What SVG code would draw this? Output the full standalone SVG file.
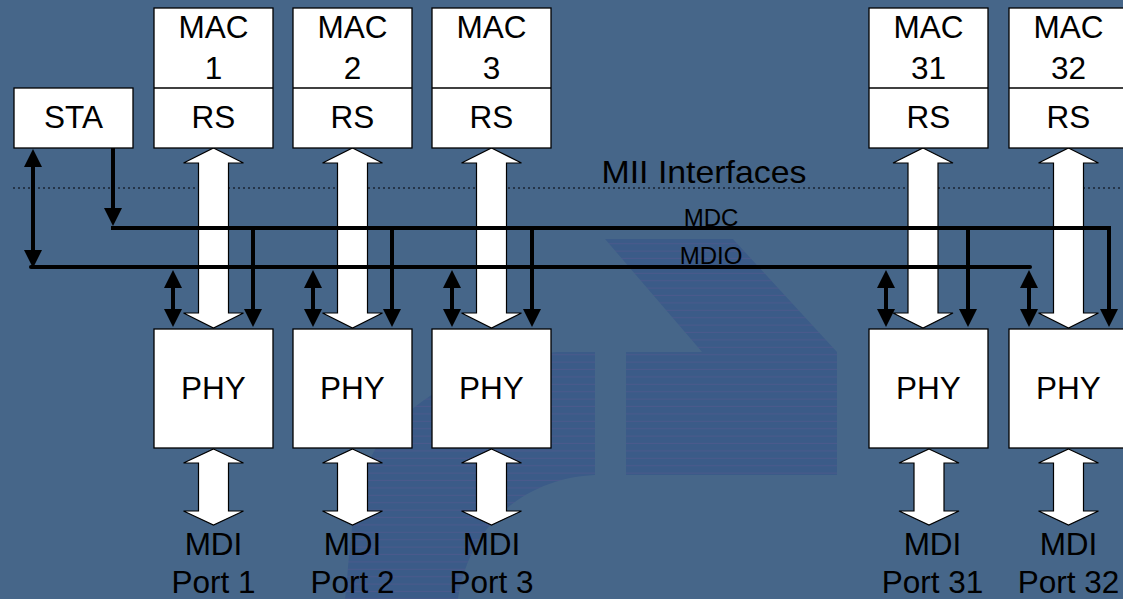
<svg xmlns="http://www.w3.org/2000/svg" xmlns:xlink="http://www.w3.org/1999/xlink" width="1123" height="599" viewBox="0 0 1123 599">
<style>
.box{fill:#fff;stroke:#000;stroke-width:1.3}
.big{fill:#fff;stroke:#000;stroke-width:1.2}
.t{font-family:"Liberation Sans",Arial,sans-serif;font-size:31.5px;fill:#000;text-anchor:middle}
.s{font-family:"Liberation Sans",Arial,sans-serif;font-size:24px;fill:#000;text-anchor:middle}
.w{fill:none;stroke:#000;stroke-width:4}
.dot{fill:none;stroke:#1a2533;stroke-width:1.3;stroke-dasharray:2 3}
</style>
<defs>
<pattern id="stripes" patternUnits="userSpaceOnUse" width="20" height="7.4">
<rect width="20" height="7.4" fill="#3B5B88"/>
<rect y="6.4" width="20" height="1" fill="#4B5A8C"/>
</pattern>
<marker id="ah" viewBox="0 0 18 18" markerWidth="18" markerHeight="18" refX="9" refY="9" orient="auto-start-reverse" markerUnits="userSpaceOnUse">
<path d="M0,0 L18,9 L0,18 Z" fill="#000"/>
</marker>
<path id="bigTop" d="M0,0 L30,15 L15,15 L15,165 L30,165 L0,180 L-30,165 L-15,165 L-15,15 L-30,15 Z"/>
<path id="bigBot" d="M0,0 L30,14 L15,14 L15,62 L30,62 L0,76 L-30,62 L-15,62 L-15,14 L-30,14 Z"/>
</defs>
<rect width="1123" height="599" fill="#466689"/>
<g id="watermark">
<path d="M605,239 L733,239 L837,352 L837,475 L626,475 L626,352 L702,352 Z" fill="url(#stripes)"/>
<path d="M595,352 L556,352 C470,360 395,410 372,455 S350,560 345,599 L458,599 C470,520 530,478 595,475 Z" fill="url(#stripes)"/>
</g>
<line class="dot" x1="13" y1="188" x2="1123" y2="188"/>
<text class="t" x="704" y="183" textLength="205" lengthAdjust="spacingAndGlyphs">MII Interfaces</text>
<g id="mii-arrows">
<use href="#bigTop" class="big" transform="translate(213.5,148)"/>
<use href="#bigTop" class="big" transform="translate(352.5,148)"/>
<use href="#bigTop" class="big" transform="translate(491.5,148)"/>
<use href="#bigTop" class="big" transform="translate(923,148)"/>
<use href="#bigTop" class="big" transform="translate(1068.5,148)"/>
</g>
<g id="mdi-arrows">
<use href="#bigBot" class="big" transform="translate(213.5,449)"/>
<use href="#bigBot" class="big" transform="translate(352.5,449)"/>
<use href="#bigBot" class="big" transform="translate(491.5,449)"/>
<use href="#bigBot" class="big" transform="translate(929,449)"/>
<use href="#bigBot" class="big" transform="translate(1068.5,449)"/>
</g>
<g id="connectors">
<path class="w" d="M33,158 V259" marker-start="url(#ah)" marker-end="url(#ah)"/>
<path class="w" d="M113,148 V217" marker-end="url(#ah)"/>
<path class="w" d="M111,228 H1109 V318" marker-end="url(#ah)"/>
<path class="w" d="M31,267 H1030" stroke-linecap="round"/>
<path class="w" d="M253,226 V318" marker-end="url(#ah)"/>
<path class="w" d="M392,226 V318" marker-end="url(#ah)"/>
<path class="w" d="M532,226 V318" marker-end="url(#ah)"/>
<path class="w" d="M968,226 V318" marker-end="url(#ah)"/>
<path class="w" d="M173,279 V318" marker-start="url(#ah)" marker-end="url(#ah)"/>
<path class="w" d="M313,279 V318" marker-start="url(#ah)" marker-end="url(#ah)"/>
<path class="w" d="M452,279 V318" marker-start="url(#ah)" marker-end="url(#ah)"/>
<path class="w" d="M886,279 V318" marker-start="url(#ah)" marker-end="url(#ah)"/>
<path class="w" d="M1029,279 V318" marker-start="url(#ah)" marker-end="url(#ah)"/>
<text class="s" x="711" y="226">MDC</text>
<text class="s" x="711" y="264">MDIO</text>
</g>
<g id="sta">
<rect class="box" x="14" y="88" width="119" height="60"/>
<text class="t" x="73.5" y="128">STA</text>
</g>
<g id="mac1">
<rect class="box" x="154" y="8" width="119" height="140"/>
<line x1="154" y1="88" x2="273" y2="88" stroke="#000" stroke-width="1.3"/>
<text class="t" x="213.5" y="38">MAC</text><text class="t" x="213.5" y="79">1</text><text class="t" x="213.5" y="128">RS</text>
</g>
<g id="mac2">
<rect class="box" x="293" y="8" width="119" height="140"/>
<line x1="293" y1="88" x2="412" y2="88" stroke="#000" stroke-width="1.3"/>
<text class="t" x="352.5" y="38">MAC</text><text class="t" x="352.5" y="79">2</text><text class="t" x="352.5" y="128">RS</text>
</g>
<g id="mac3">
<rect class="box" x="432" y="8" width="119" height="140"/>
<line x1="432" y1="88" x2="551" y2="88" stroke="#000" stroke-width="1.3"/>
<text class="t" x="491.5" y="38">MAC</text><text class="t" x="491.5" y="79">3</text><text class="t" x="491.5" y="128">RS</text>
</g>
<g id="mac31">
<rect class="box" x="869" y="8" width="119" height="140"/>
<line x1="869" y1="88" x2="988" y2="88" stroke="#000" stroke-width="1.3"/>
<text class="t" x="928.5" y="38">MAC</text><text class="t" x="928.5" y="79">31</text><text class="t" x="928.5" y="128">RS</text>
</g>
<g id="mac32">
<rect class="box" x="1009" y="8" width="119" height="140"/>
<line x1="1009" y1="88" x2="1128" y2="88" stroke="#000" stroke-width="1.3"/>
<text class="t" x="1068.5" y="38">MAC</text><text class="t" x="1068.5" y="79">32</text><text class="t" x="1068.5" y="128">RS</text>
</g>
<g id="phy1"><rect class="box" x="154" y="329" width="119" height="119"/><text class="t" x="213.5" y="399">PHY</text></g>
<g id="phy2"><rect class="box" x="293" y="329" width="119" height="119"/><text class="t" x="352.5" y="399">PHY</text></g>
<g id="phy3"><rect class="box" x="432" y="329" width="119" height="119"/><text class="t" x="491.5" y="399">PHY</text></g>
<g id="phy31"><rect class="box" x="869" y="329" width="119" height="119"/><text class="t" x="928.5" y="399">PHY</text></g>
<g id="phy32"><rect class="box" x="1009" y="329" width="119" height="119"/><text class="t" x="1068.5" y="399">PHY</text></g>
<g id="port1"><text class="t" x="213.5" y="555">MDI</text><text class="t" x="213.5" y="593">Port 1</text></g>
<g id="port2"><text class="t" x="352.5" y="555">MDI</text><text class="t" x="352.5" y="593">Port 2</text></g>
<g id="port3"><text class="t" x="491.5" y="555">MDI</text><text class="t" x="491.5" y="593">Port 3</text></g>
<g id="port31"><text class="t" x="932.5" y="555">MDI</text><text class="t" x="932.5" y="593">Port 31</text></g>
<g id="port32"><text class="t" x="1068.5" y="555">MDI</text><text class="t" x="1068.5" y="593">Port 32</text></g>
</svg>
